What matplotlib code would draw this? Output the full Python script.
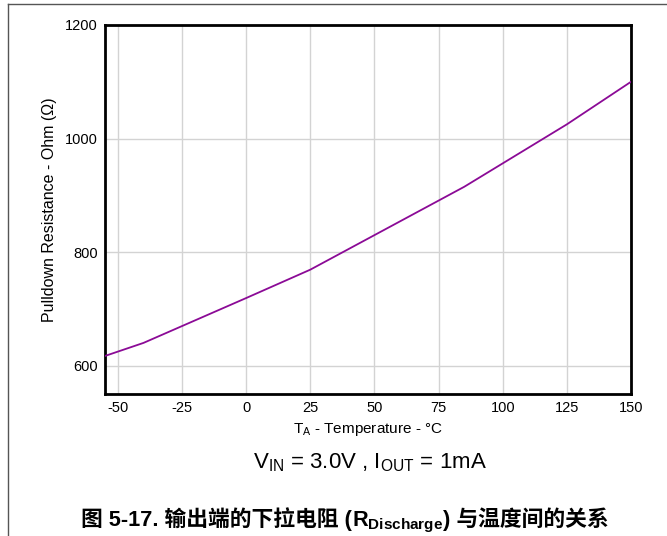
import matplotlib
matplotlib.use('Agg')
import matplotlib.pyplot as plt
from matplotlib.lines import Line2D

# data
temps = [-55, -40, 0, 25, 85, 125, 150]
resistance = [617, 640, 719, 769, 915, 1025, 1100]
xticks = [-50, -25, 0, 25, 50, 75, 100, 125, 150]
yticks = [600, 800, 1000, 1200]

plt.rcParams['font.family'] = ['Liberation Sans', 'Noto Sans CJK SC']
plt.rcParams['axes.unicode_minus'] = False
plt.rcParams['mathtext.fontset'] = 'custom'
plt.rcParams['mathtext.rm'] = 'Liberation Sans'
plt.rcParams['mathtext.it'] = 'Liberation Sans'
plt.rcParams['mathtext.bf'] = 'Liberation Sans:bold'

fig = plt.figure(figsize=(6.67, 5.36), dpi=100)
ax = fig.add_axes([105/667, 1 - 394/536, (631 - 105)/667, (394 - 25)/536])

ax.plot(temps, resistance, color='#8B0A96', lw=1.3, zorder=3)
ax.set_xlim(-55, 150)
ax.set_ylim(550, 1200)
ax.set_xticks(xticks)
ax.set_yticks(yticks)
ax.grid(True, color='#d3d3d3', lw=1.0)
ax.tick_params(length=0, pad=5, labelsize=10.5)
for s in ax.spines.values():
    s.set_linewidth(2)
ax.set_xlabel(r'T$_\mathrm{A}$ - Temperature - °C', fontsize=11, labelpad=4)
ax.set_ylabel('Pulldown Resistance - Ohm (Ω)', fontsize=11.5, labelpad=6)

fig.text(370/667, 1 - 463/536, r'V$_\mathrm{IN}$ = 3.0V , I$_\mathrm{OUT}$ = 1mA',
         fontsize=16, ha='center', va='center')

# figure frame lines (left and top only)
fig.add_artist(Line2D([8/667, 8/667], [0, 1 - 4/536], transform=fig.transFigure, color='#555555', lw=1))
fig.add_artist(Line2D([8/667, 1], [1 - 4/536, 1 - 4/536], transform=fig.transFigure, color='#555555', lw=1))

# caption: mix of CJK text and a subscript, placed piece by piece on one baseline
pieces = ['图 5-17. 输出端的下拉电阻 (', r'$\mathbf{R_{Discharge}}$', ') 与温度间的关系']
fig.canvas.draw()
r = fig.canvas.get_renderer()
objs = []
for p in pieces:
    t = fig.text(0, 1 - 526/536, p, fontsize=15.7, fontweight='bold', va='baseline', ha='left')
    objs.append(t)
widths = [t.get_window_extent(r).width for t in objs]
x = 345 - sum(widths) / 2
for t, w in zip(objs, widths):
    t.set_x(x / 667)
    x += w

fig.savefig('out.png', dpi=100)
